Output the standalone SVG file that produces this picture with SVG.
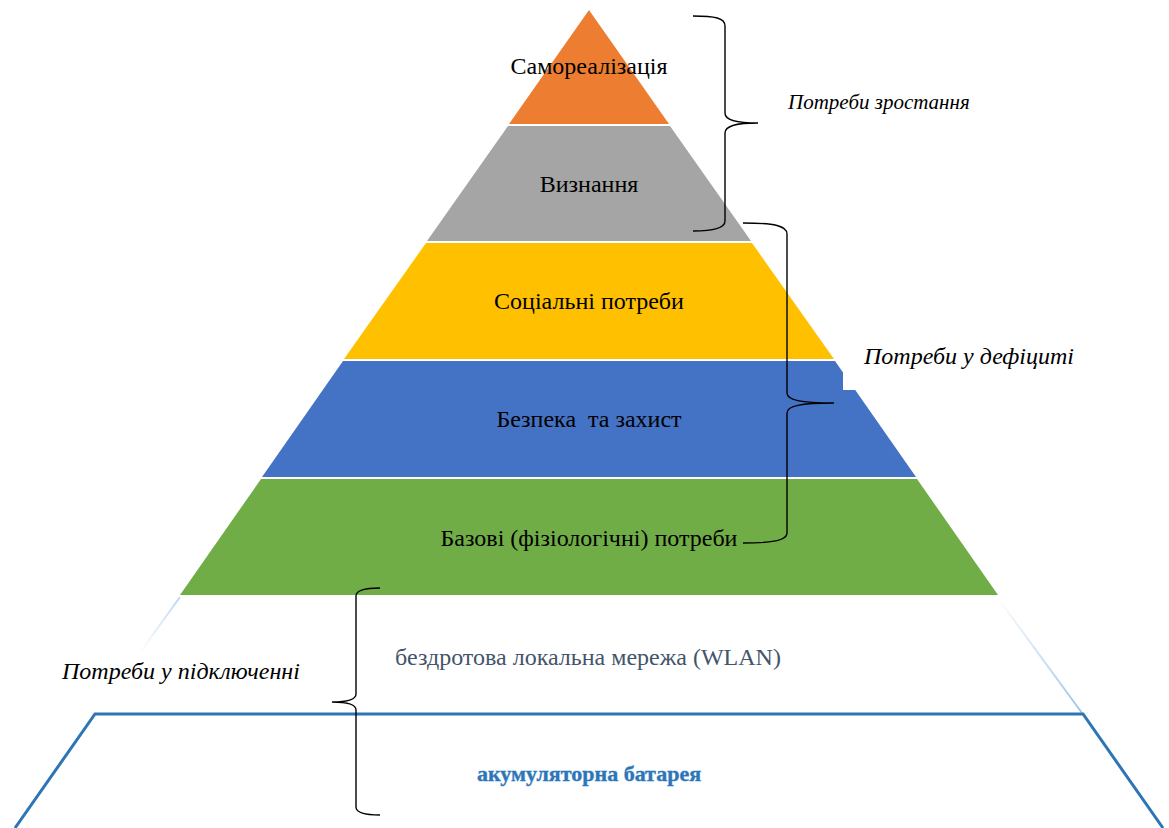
<svg xmlns="http://www.w3.org/2000/svg" width="1169" height="828" viewBox="0 0 1169 828">
  <style>
    .lbl { font-family: "Liberation Serif", "Times New Roman", serif; font-size: 24px; fill: #000000; text-anchor: middle; }
    .note { font-family: "Liberation Serif", "Times New Roman", serif; font-size: 24px; font-style: italic; fill: #000000; }
    .brace { fill: none; stroke: #000000; stroke-width: 1.4; }
  </style>
  <defs>
    <linearGradient id="fadeLeft" gradientUnits="userSpaceOnUse" x1="180" y1="597" x2="140" y2="654">
      <stop offset="0" stop-color="#BDD7EE"/>
      <stop offset="1" stop-color="#BDD7EE" stop-opacity="0"/>
    </linearGradient>
    <linearGradient id="fadeRight" gradientUnits="userSpaceOnUse" x1="997" y1="597" x2="1083" y2="714">
      <stop offset="0" stop-color="#9DC3E6" stop-opacity="0"/>
      <stop offset="1" stop-color="#9DC3E6"/>
    </linearGradient>
  </defs>
  <rect width="1169" height="828" fill="#FFFFFF"/>

  <!-- pyramid levels -->
  <g id="level-self">
    <polygon points="589,10 669,124 509,124" fill="#ED7D31"/>
    <text class="lbl" x="589" y="74">Самореалізація</text>
  </g>
  <g id="level-esteem">
    <polygon points="508,126 670,126 751,241 427,241" fill="#A5A5A5"/>
    <text class="lbl" x="589" y="192">Визнання</text>
  </g>
  <g id="level-social">
    <polygon points="426,243 752,243 834,359 344,359" fill="#FFC000"/>
    <text class="lbl" x="589" y="309">Соціальні потреби</text>
  </g>
  <g id="level-safety">
    <polygon points="343,361 835,361 916,477 262,477" fill="#4472C4"/>
    <rect x="843" y="361" width="30" height="29" fill="#FFFFFF"/>
    <text class="lbl" x="589" y="427" xml:space="preserve">Безпека  та захист</text>
  </g>
  <g id="level-basic">
    <polygon points="261,479 917,479 998,595 180,595" fill="#70AD47"/>
    <text class="lbl" x="589" y="546">Базові (фізіологічні) потреби</text>
  </g>
  <g id="level-wlan">
    <line x1="180" y1="597" x2="97" y2="712" stroke="url(#fadeLeft)" stroke-width="2"/>
    <line x1="997" y1="597" x2="1082" y2="713" stroke="url(#fadeRight)" stroke-width="2"/>
    <text class="lbl" x="588" y="665" style="fill:#44546A">бездротова локальна мережа (WLAN)</text>
  </g>
  <g id="level-battery">
    <polyline points="15,828 95,714 1083,714 1163,828" fill="none" stroke="#2E75B6" stroke-width="3" stroke-linejoin="miter"/>
    <text class="lbl" x="589" y="781" style="font-size:22px;font-weight:bold;fill:#2E75B6;stroke:#9DC3E6;stroke-width:0.8;paint-order:stroke">акумуляторна батарея</text>
  </g>

  <!-- grouping braces -->
  <g id="connectors">
    <path class="brace" d="M693,16 C715,16 725,18 725,26 L725,113 C725,120 735,123 758,123 C735,123 725,126 725,133 L725,221 C725,228 715,231 693,231"/>
    <path class="brace" d="M743,223 C775,223 787,226 787,234 L787,393 C787,400 800,403 834,403 C800,403 787,406 787,413 L787,533 C787,540 775,543 743,543"/>
    <path class="brace" d="M380,588 C365,588 356,590 356,596 L356,694 C356,699 348,702 332,702 C348,702 356,705 356,710 L356,807 C356,813 365,815 380,815"/>
  </g>

  <!-- group labels -->
  <g id="label-growth">
    <text class="note" x="788" y="109" style="font-size:21px">Потреби зростання</text>
  </g>
  <g id="label-deficit">
    <text class="note" x="864" y="364">Потреби у дефіциті</text>
  </g>
  <g id="label-connect">
    <text class="note" x="62" y="679">Потреби у підключенні</text>
  </g>
</svg>
